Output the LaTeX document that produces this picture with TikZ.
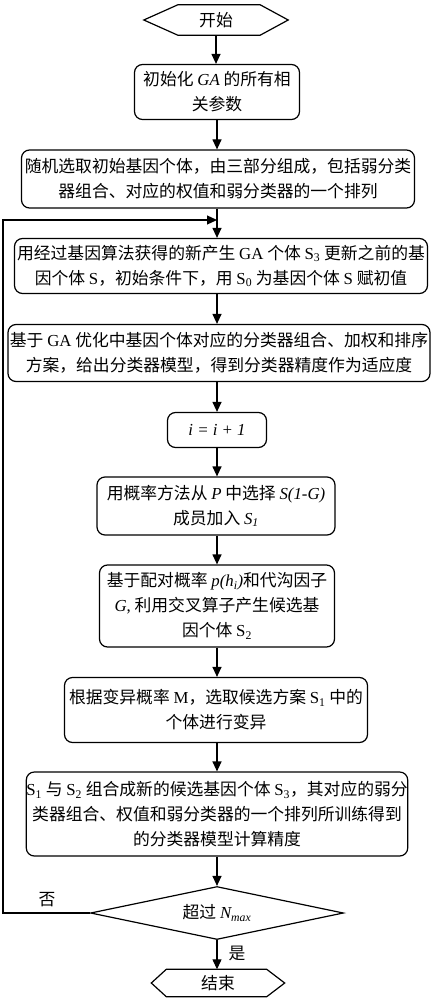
\documentclass[tikz,border=0pt]{standalone}
\usepackage{fontspec}
\setmainfont{Noto Sans CJK SC}
\newfontfamily\lr{Liberation Serif}
\usetikzlibrary{arrows.meta,shapes.geometric,calc}
\newcommand\lt[1]{{\lr #1}}
\newcommand\li[1]{{\lr\itshape #1}}
\newcommand\sbs[1]{\textsubscript{\lr #1}}
\begin{document}
\begin{tikzpicture}[x=1pt,y=-1pt,
  every node/.style={font=\fontsize{16.8}{25}\selectfont, align=center, inner sep=0pt},
  proc/.style={draw, line width=1.2pt, rounded corners=8pt},
  term/.style={minimum width=#1},
  arr/.style={line width=1.2pt, -{Triangle[length=10pt,width=9pt]}},
  hexline/.style={line width=1.2pt}
]
\useasboundingbox (0,0) rectangle (432,1000);
\node (start) [minimum width=144, minimum height=30] at (216,20) {开始};
\draw[hexline] (start.west) -- ($(start.north west)+(34,0)$) -- ($(start.north east)+(-28,0)$) -- (start.east) -- ($(start.south east)+(-28,0)$) -- ($(start.south west)+(34,0)$) -- cycle;

\node (b2) [proc, minimum width=165, minimum height=55] at (217,92) {初始化 \li{GA} 的所有相\\关参数};
\node (b3) [proc, minimum width=393, minimum height=58] at (218,179) {随机选取初始基因个体，由三部分组成，包括弱分类\\器组合、对应的权值和弱分类器的一个排列};
\node (b4) [proc, minimum width=413, minimum height=55] at (221,266) {用经过基因算法获得的新产生 \lt{GA} 个体 \lt{S}\sbs{3} 更新之前的基\\因个体 \lt{S}，初始条件下，用 \lt{S}\sbs{0} 为基因个体 \lt{S} 赋初值};
\node (b5) [proc, minimum width=422, minimum height=57] at (219,353) {基于 \lt{GA} 优化中基因个体对应的分类器组合、加权和排序\\方案，给出分类器模型，得到分类器精度作为适应度};
\node (b6) [proc, minimum width=99, minimum height=35] at (217,430) {\li{i = i + 1}};
\node (b7) [proc, minimum width=238, minimum height=58] at (216,506) {用概率方法从 \li{P} 中选择 \li{S(1-G)}\\成员加入 \li{S\textsubscript{1}}};
\node (b8) [proc, minimum width=235, minimum height=82] at (217,606) {基于配对概率 \li{p(h\textsubscript{i})}和代沟因子\\\li{G}\lt{,} 利用交叉算子产生候选基\\因个体 \lt{S}\sbs{2}};
\node (b9) [proc, minimum width=303, minimum height=65] at (216,710) {根据变异概率 \lt{M}，选取候选方案 \lt{S}\sbs{1} 中的\\个体进行变异};
\node (b10) [proc, minimum width=380, minimum height=84] at (217,814) {\lt{S}\sbs{1} 与 \lt{S}\sbs{2} 组合成新的候选基因个体 \lt{S}\sbs{3}，其对应的弱分\\类器组合、权值和弱分类器的一个排列所训练得到\\的分类器模型计算精度};
\node (dia) [draw, diamond, line width=1.2pt, aspect=4.8, minimum width=253, minimum height=53] at (217,913) {超过 \li{N\textsubscript{max}}};
\node (end) [minimum width=133, minimum height=27] at (218,983) {结束};
\draw[hexline] (end.west) -- ($(end.north west)+(15,0)$) -- ($(end.north east)+(-18,0)$) -- (end.east) -- ($(end.south east)+(-18,0)$) -- ($(end.south west)+(15,0)$) -- cycle;

\coordinate (lp) at (3,220);
\coordinate (join) at (217,220);

\draw[arr] (start.south) -- (start.south |- b2.north);
\draw[arr] (b2.south) -- (b2.south |- b3.north);
\draw[arr] (b3.south -| join) -- (join |- b4.north);
\draw[arr] (b4.south -| join) -- (join |- b5.north);
\draw[arr] (b5.south -| b6) -- (b6.north);
\draw[arr] (b6.south) -- (b6.south |- b7.north);
\draw[arr] (b7.south -| b8) -- (b8.north);
\draw[arr] (b8.south) -- (b8.south |- b9.north);
\draw[arr] (b9.south -| b10) -- (b10.north);
\draw[arr] (b10.south) -- (dia.north);
\draw[arr] (dia.south) -- (dia.south |- end.north);
\draw[arr] (dia.west) -| (lp) -- (join);

\node (no) at (47,900) {否};
\node (yes) at (237,953) {是};
\end{tikzpicture}
\end{document}
